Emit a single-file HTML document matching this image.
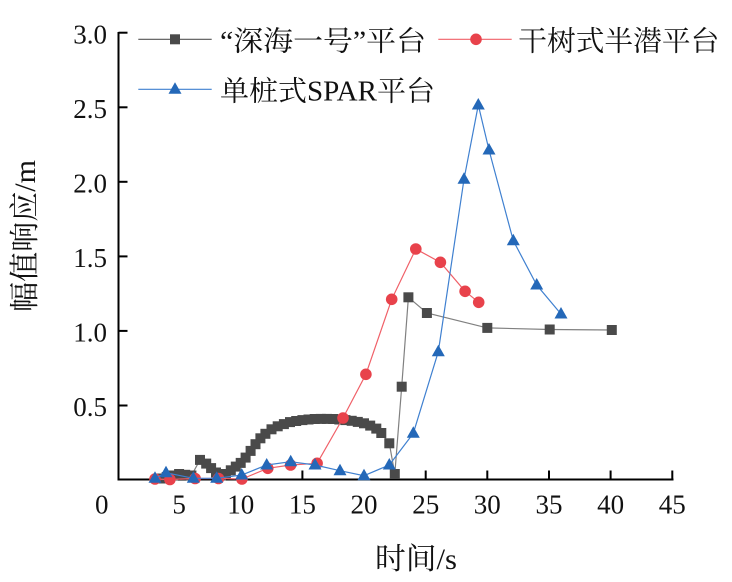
<!DOCTYPE html>
<html><head><meta charset="utf-8"><style>
html,body{margin:0;padding:0;background:#fff;}
svg{display:block;}
</style></head><body>
<svg width="732" height="582" viewBox="0 0 732 582" xmlns="http://www.w3.org/2000/svg">
<g stroke="#000" stroke-width="2" fill="none">
<line x1="118.5" y1="32" x2="118.5" y2="480.5"/>
<line x1="117.5" y1="479.5" x2="673.5" y2="479.5"/>
<line x1="118.5" y1="32.7" x2="127.5" y2="32.7"/>
<line x1="118.5" y1="107.3" x2="127.5" y2="107.3"/>
<line x1="118.5" y1="181.8" x2="127.5" y2="181.8"/>
<line x1="118.5" y1="256.4" x2="127.5" y2="256.4"/>
<line x1="118.5" y1="330.9" x2="127.5" y2="330.9"/>
<line x1="118.5" y1="405.5" x2="127.5" y2="405.5"/>
<line x1="179.1" y1="479.5" x2="179.1" y2="470.5"/>
<line x1="240.7" y1="479.5" x2="240.7" y2="470.5"/>
<line x1="302.4" y1="479.5" x2="302.4" y2="470.5"/>
<line x1="364.0" y1="479.5" x2="364.0" y2="470.5"/>
<line x1="425.7" y1="479.5" x2="425.7" y2="470.5"/>
<line x1="487.3" y1="479.5" x2="487.3" y2="470.5"/>
<line x1="549.0" y1="479.5" x2="549.0" y2="470.5"/>
<line x1="610.6" y1="479.5" x2="610.6" y2="470.5"/>
<line x1="672.3" y1="479.5" x2="672.3" y2="470.5"/>
</g>
<g font-family="'Liberation Serif', 'Noto Serif CJK SC', serif" fill="#111">
<g font-size="27" text-anchor="end">
<text x="107" y="43.3">3.0</text>
<text x="107" y="117.9">2.5</text>
<text x="107" y="192.4">2.0</text>
<text x="107" y="267">1.5</text>
<text x="107" y="341.5">1.0</text>
<text x="107" y="416.1">0.5</text>
</g>
<g font-size="27" text-anchor="middle">
<text x="101.7" y="513.5">0</text>
<text x="179.1" y="513.5">5</text>
<text x="240.7" y="513.5">10</text>
<text x="302.4" y="513.5">15</text>
<text x="364.0" y="513.5">20</text>
<text x="425.7" y="513.5">25</text>
<text x="487.3" y="513.5">30</text>
<text x="549.0" y="513.5">35</text>
<text x="610.6" y="513.5">40</text>
<text x="672.3" y="513.5">45</text>
</g>
<text x="375" y="569" font-size="30" textLength="82" lengthAdjust="spacingAndGlyphs">时间/s</text>
<text transform="translate(35,312) rotate(-90)" x="0" y="0" font-size="30" textLength="152" lengthAdjust="spacingAndGlyphs">幅值响应/m</text>
<text x="220" y="50.5" font-size="28" textLength="206" lengthAdjust="spacingAndGlyphs">“深海一号”平台</text>
<text x="518.3" y="50.5" font-size="28" textLength="201" lengthAdjust="spacingAndGlyphs">干树式半潜平台</text>
<text x="220" y="100.5" font-size="28" textLength="215" lengthAdjust="spacingAndGlyphs">单桩式SPAR平台</text>
</g>

<polyline fill="none" stroke="#808080" stroke-width="1.2" points="160.6,478.5 166.7,477 172.9,475.5 179.1,474 185.2,474.8 191.4,475.5 200,459.9 206.2,463.6 211.1,468.1 216,472.5 221,475.5 225.9,474 230.8,470.3 235.8,466.6 240.7,462.9 245.6,457.6 250.6,450.9 255.5,444.2 260.4,438.3 265.4,433.8 271.5,429.3 277.7,426.3 283.9,424.1 290,422.1 296.2,421 302.4,420.1 308.5,419.5 314.7,419 320.8,418.9 327,418.9 333.2,419 339.3,419.5 345.5,420.1 351.7,420.8 357.8,421.9 364,423.3 370.2,425.6 376.3,428.6 381.3,433 389.3,443.3 394.8,474 401.7,386.7 408.4,297.3 426.9,313 487.3,327.9 549.7,329.5 611.8,330"/>
<g fill="#4a4a4a">
<rect x="155.6" y="473.5" width="10" height="10"/>
<rect x="161.7" y="472" width="10" height="10"/>
<rect x="167.9" y="470.5" width="10" height="10"/>
<rect x="174.1" y="469" width="10" height="10"/>
<rect x="180.2" y="469.8" width="10" height="10"/>
<rect x="186.4" y="470.5" width="10" height="10"/>
<rect x="195" y="454.9" width="10" height="10"/>
<rect x="201.2" y="458.6" width="10" height="10"/>
<rect x="206.1" y="463.1" width="10" height="10"/>
<rect x="211" y="467.5" width="10" height="10"/>
<rect x="216" y="470.5" width="10" height="10"/>
<rect x="220.9" y="469" width="10" height="10"/>
<rect x="225.8" y="465.3" width="10" height="10"/>
<rect x="230.8" y="461.6" width="10" height="10"/>
<rect x="235.7" y="457.9" width="10" height="10"/>
<rect x="240.6" y="452.6" width="10" height="10"/>
<rect x="245.6" y="445.9" width="10" height="10"/>
<rect x="250.5" y="439.2" width="10" height="10"/>
<rect x="255.4" y="433.3" width="10" height="10"/>
<rect x="260.4" y="428.8" width="10" height="10"/>
<rect x="266.5" y="424.3" width="10" height="10"/>
<rect x="272.7" y="421.3" width="10" height="10"/>
<rect x="278.9" y="419.1" width="10" height="10"/>
<rect x="285" y="417.1" width="10" height="10"/>
<rect x="291.2" y="416" width="10" height="10"/>
<rect x="297.4" y="415.1" width="10" height="10"/>
<rect x="303.5" y="414.5" width="10" height="10"/>
<rect x="309.7" y="414" width="10" height="10"/>
<rect x="315.8" y="413.9" width="10" height="10"/>
<rect x="322" y="413.9" width="10" height="10"/>
<rect x="328.2" y="414" width="10" height="10"/>
<rect x="334.3" y="414.5" width="10" height="10"/>
<rect x="340.5" y="415.1" width="10" height="10"/>
<rect x="346.7" y="415.8" width="10" height="10"/>
<rect x="352.8" y="416.9" width="10" height="10"/>
<rect x="359" y="418.3" width="10" height="10"/>
<rect x="365.2" y="420.6" width="10" height="10"/>
<rect x="371.3" y="423.6" width="10" height="10"/>
<rect x="376.3" y="428" width="10" height="10"/>
<rect x="384.3" y="438.3" width="10" height="10"/>
<rect x="389.8" y="469" width="10" height="10"/>
<rect x="396.7" y="381.7" width="10" height="10"/>
<rect x="403.4" y="292.3" width="10" height="10"/>
<rect x="421.9" y="308" width="10" height="10"/>
<rect x="482.3" y="322.9" width="10" height="10"/>
<rect x="544.7" y="324.5" width="10" height="10"/>
<rect x="606.8" y="325" width="10" height="10"/>
</g>

<polyline fill="none" stroke="#f06068" stroke-width="1.2" points="155,479 169.9,479.5 195.1,478.5 218.5,478.5 241.9,479 267.8,468.3 290.6,465 317.1,463.3 343,418 365.9,374.3 391.7,299.3 415.8,249 440.4,262.3 465.1,291.3 478.7,302.3"/>
<g fill="#e8424b">
<circle cx="155" cy="479" r="5.8"/>
<circle cx="169.9" cy="479.5" r="5.8"/>
<circle cx="195.1" cy="478.5" r="5.8"/>
<circle cx="218.5" cy="478.5" r="5.8"/>
<circle cx="241.9" cy="479" r="5.8"/>
<circle cx="267.8" cy="468.3" r="5.8"/>
<circle cx="290.6" cy="465" r="5.8"/>
<circle cx="317.1" cy="463.3" r="5.8"/>
<circle cx="343" cy="418" r="5.8"/>
<circle cx="365.9" cy="374.3" r="5.8"/>
<circle cx="391.7" cy="299.3" r="5.8"/>
<circle cx="415.8" cy="249" r="5.8"/>
<circle cx="440.4" cy="262.3" r="5.8"/>
<circle cx="465.1" cy="291.3" r="5.8"/>
<circle cx="478.7" cy="302.3" r="5.8"/>
</g>

<polyline fill="none" stroke="#3f80d0" stroke-width="1.2" points="155,478.3 166,472.7 193.3,478.3 216.7,478.3 241.7,475 266.7,465 290.7,461.7 315,465 340,470.7 364,475.7 389.3,465 413.3,433.3 438.3,351.7 464,179.3 478.3,105 489,150 513.3,240.7 536.7,285 561,314"/>
<g fill="#2468b8">
<polygon points="155,471.3 148.5,482.8 161.5,482.8"/>
<polygon points="166,465.7 159.5,477.2 172.5,477.2"/>
<polygon points="193.3,471.3 186.8,482.8 199.8,482.8"/>
<polygon points="216.7,471.3 210.2,482.8 223.2,482.8"/>
<polygon points="241.7,468 235.2,479.5 248.2,479.5"/>
<polygon points="266.7,458 260.2,469.5 273.2,469.5"/>
<polygon points="290.7,454.7 284.2,466.2 297.2,466.2"/>
<polygon points="315,458 308.5,469.5 321.5,469.5"/>
<polygon points="340,463.7 333.5,475.2 346.5,475.2"/>
<polygon points="364,468.7 357.5,480.2 370.5,480.2"/>
<polygon points="389.3,458 382.8,469.5 395.8,469.5"/>
<polygon points="413.3,426.3 406.8,437.8 419.8,437.8"/>
<polygon points="438.3,344.7 431.8,356.2 444.8,356.2"/>
<polygon points="464,172.3 457.5,183.8 470.5,183.8"/>
<polygon points="478.3,98 471.8,109.5 484.8,109.5"/>
<polygon points="489,143 482.5,154.5 495.5,154.5"/>
<polygon points="513.3,233.7 506.8,245.2 519.8,245.2"/>
<polygon points="536.7,278 530.2,289.5 543.2,289.5"/>
<polygon points="561,307 554.5,318.5 567.5,318.5"/>
</g>

<line x1="138.3" y1="39.3" x2="211.7" y2="39.3" stroke="#555" stroke-width="1.2"/>
<rect x="170" y="34.3" width="10" height="10" fill="#4a4a4a"/>
<line x1="438.3" y1="39.3" x2="511.7" y2="39.3" stroke="#f06068" stroke-width="1.2"/>
<circle cx="476" cy="39.3" r="5.8" fill="#e8424b"/>
<line x1="138.3" y1="89.3" x2="211.7" y2="89.3" stroke="#3f80d0" stroke-width="1.2"/>
<polygon points="175,82.3 168.5,93.8 181.5,93.8" fill="#2468b8"/>
</svg>
</body></html>
